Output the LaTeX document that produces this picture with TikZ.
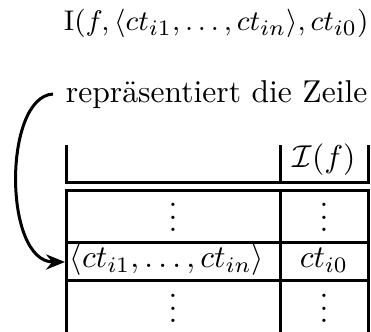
\documentclass[tikz,border=0pt]{standalone}
\usetikzlibrary{arrows.meta}
\begin{document}
\begin{tikzpicture}[x=0.3165pt,y=-0.3165pt,
  rule/.style={line width=0.95pt},
  txt/.style={inner sep=0pt,anchor=base},
  vd/.style={inner sep=0pt,anchor=base,text height=9.2pt,text depth=0pt},
  curvearrow/.style={line width=0.95pt,-{Stealth[length=6pt,width=4.8pt]}}]
\useasboundingbox (0,0) rectangle (371,332);
% title
\node[txt,anchor=base east] (title) at (369,31) {\fontsize{9.5pt}{11pt}\selectfont$\mathrm{I}(f,\langle ct_{i1},\ldots,ct_{in}\rangle,ct_{i0})$};
\node[txt,anchor=base east] (rep) at (368,103) {repräsentiert die Zeile};
% table lines
\draw[rule] (66,145) -- (66,183) (280,145) -- (280,183) (368,145) -- (368,183);
\draw[rule] (64.5,183) -- (369.5,183);
\draw[rule] (64.5,190.5) -- (369.5,190.5);
\draw[rule] (66,190.5) -- (66,333) (280,190.5) -- (280,333) (368,190.5) -- (368,333);
\draw[rule] (66,242.5) -- (368,242.5);
\draw[rule] (66,281) -- (368,281);
% cells
\node[txt] (hf) at (324,168) {$\mathcal{I}(f)$};
\node[vd] (v1a) at (173,232) {$\vdots$};
\node[vd] (v1b) at (324,232) {$\vdots$};
\node[txt] (tup) at (167,268) {$\langle ct_{i1},\ldots,ct_{in}\rangle$};
\node[txt] (val) at (324,268) {$ct_{i0}$};
\node[vd] (v3a) at (173,323) {$\vdots$};
\node[vd] (v3b) at (324,323) {$\vdots$};
\coordinate (s) at (53,94);
\coordinate (e) at (65,262);
\draw[curvearrow] (s) .. controls (3,97) and (3,262) .. (e);
\end{tikzpicture}
\end{document}
